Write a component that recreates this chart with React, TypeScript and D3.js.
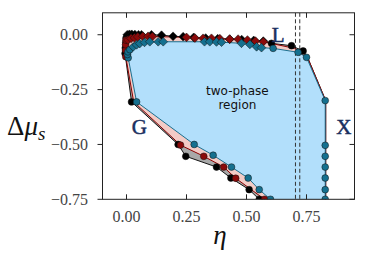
import { useRef, useEffect } from 'react';
import * as d3 from 'd3';

// [eta, delta mu, marker] marker: 'o' circle, 'd' diamond, '' plain vertex
type Pt = [number, number, string];

const blackCurve: Pt[] = [
    [0.58, -0.8, ''], [0.553, -0.75, 'o'], [0.511, -0.706, 'o'], [0.435, -0.653, 'o'], [0.375, -0.603, 'o'],
    [0.247, -0.554, 'o'], [0.215, -0.5, 'o'], [0.021, -0.306, 'o'],
    [-0.006, -0.085, 'o'], [-0.005, -0.06, 'o'], [-0.003, -0.035, 'o'], [-0.002, -0.015, 'o'],
    [0.003, 0.0, 'd'], [0.012, 0.002, 'd'], [0.022, 0.002, 'd'], [0.035, 0.001, 'd'], [0.05, 0.0, 'd'],
    [0.0625, 0.0, 'd'], [0.104, 0.0, 'd'], [0.146, -0.002, 'd'], [0.194, -0.007, 'd'], [0.236, -0.009, 'd'],
    [0.28, -0.012, 'd'], [0.33, -0.015, 'd'], [0.38, -0.018, 'd'], [0.43, -0.02, 'd'], [0.48, -0.022, 'd'],
    [0.53, -0.026, 'd'], [0.57, -0.029, 'd'], [0.604, -0.039, 'o'], [0.6875, -0.05, 'o'], [0.736, -0.074, 'o'],
    [0.755, -0.105, ''], [0.83, -0.3, ''], [0.83, -0.8, '']
];

const redCurve: Pt[] = [
    [0.6, -0.8, ''], [0.575, -0.75, 'o'], [0.455, -0.654, 'o'], [0.405, -0.603, 'o'], [0.322, -0.554, 'o'],
    [0.225, -0.503, 'o'], [0.03, -0.306, ''],
    [-0.003, -0.1, 'o'], [-0.004, -0.07, 'o'], [-0.004, -0.045, 'o'], [-0.002, -0.025, 'o'],
    [0.006, -0.024, 'd'], [0.019, -0.017, 'd'], [0.033, -0.014, 'd'], [0.047, -0.01, 'd'], [0.068, -0.007, 'd'],
    [0.09, -0.007, 'd'], [0.108, -0.008, 'd'], [0.25, -0.012, 'd'], [0.285, -0.015, 'd'], [0.319, -0.016, 'd'],
    [0.354, -0.016, 'd'], [0.389, -0.018, 'd'], [0.43, -0.02, 'd'], [0.465, -0.02, 'd'], [0.504, -0.024, 'd'],
    [0.5375, -0.029, 'd'], [0.57, -0.032, 'd'], [0.7, -0.062, ''], [0.745, -0.09, ''],
    [0.755, -0.105, ''], [0.83, -0.3, ''], [0.83, -0.8, '']
];

const blueCurve: Pt[] = [
    [0.62, -0.8, ''], [0.6, -0.75, 'o'], [0.553, -0.706, 'o'], [0.507, -0.653, 'o'], [0.4375, -0.603, 'o'],
    [0.361, -0.549, 'o'], [0.282, -0.5, 'o'], [0.042, -0.306, 'o'],
    [0.007, -0.105, 'o'], [0.004, -0.09, 'o'], [0.006, -0.078, 'o'], [0.014, -0.068, 'o'],
    [0.028, -0.055, 'd'], [0.042, -0.046, 'd'], [0.055, -0.04, 'd'], [0.075, -0.035, 'd'], [0.097, -0.032, 'd'],
    [0.132, -0.032, 'd'], [0.153, -0.032, 'd'], [0.325, -0.032, 'd'], [0.347, -0.032, 'd'], [0.375, -0.033, 'd'],
    [0.396, -0.034, 'd'], [0.479, -0.039, 'd'], [0.514, -0.044, 'd'], [0.542, -0.055, 'd'], [0.5625, -0.059, 'd'],
    [0.611, -0.062, 'o'], [0.715, -0.08, 'o'], [0.75, -0.103, 'o'], [0.828, -0.3, 'o'],
    [0.828, -0.504, 'o'], [0.828, -0.554, 'o'], [0.828, -0.603, 'o'], [0.828, -0.653, 'o'],
    [0.828, -0.706, 'o'], [0.828, -0.75, 'o'], [0.828, -0.8, '']
];

const xTicks = [0, 0.25, 0.5, 0.75];
const yTicks = [0, -0.25, -0.5, -0.75];
const dashedEta = [0.704, 0.722];

const phaseLabels = [
    { text: 'L', eta: 0.632, mu: 0.0 },
    { text: 'G', eta: 0.053, mu: -0.42 },
    { text: 'X', eta: 0.906, mu: -0.42 }
];

const series = [
    { data: blackCurve, fill: '#a9a9a9', line: '#111111', marker: '#000000' },
    { data: redCurve, fill: '#f3cbc6', line: '#8b0000', marker: '#8b0a0a' },
    { data: blueCurve, fill: '#b2dffb', line: '#1b6f8e', marker: '#15708f' }
];

const PhaseDiagram = () => {
    const svgRef = useRef<SVGSVGElement | null>(null);

    useEffect(() => {
        const svgElement = svgRef.current;
        if (!svgElement) return;

        const svg = d3.select(svgElement);
        svg.selectAll('*').remove();

        const left = 102.5, right = 354.5, top = 12.8, bottom = 199.3;

        const x = d3.scaleLinear().domain([-0.1, 0.95]).range([left, right]);
        const y = d3.scaleLinear().domain([-0.75, 0.1]).range([bottom, top]);

        svg.append('defs').append('clipPath').attr('id', 'plot-clip')
            .append('rect')
            .attr('x', left).attr('y', top)
            .attr('width', right - left).attr('height', bottom - top);

        const plot = svg.append('g').attr('clip-path', 'url(#plot-clip)');

        const line = d3.line<Pt>().x(d => x(d[0])).y(d => y(d[1]));

        // filled coexistence regions, outermost first
        series.forEach(s => {
            plot.append('path')
                .attr('d', line(s.data) + 'Z')
                .attr('fill', s.fill)
                .attr('stroke', 'none');
        });

        dashedEta.forEach(e => {
            plot.append('line')
                .attr('x1', x(e)).attr('x2', x(e))
                .attr('y1', top).attr('y2', bottom)
                .attr('stroke', '#333')
                .attr('stroke-width', 1)
                .attr('stroke-dasharray', '4,2.5');
        });

        series.forEach(s => {
            plot.append('path')
                .attr('d', line(s.data) as string)
                .attr('fill', 'none')
                .attr('stroke', s.line)
                .attr('stroke-width', 1);
        });

        const diamond = d3.symbol().type(d3.symbolSquare).size(38)();

        series.forEach(s => {
            const pts = s.data.filter(d => d[2] !== '');
            pts.forEach(d => {
                if (d[2] === 'o') {
                    plot.append('circle')
                        .attr('cx', x(d[0])).attr('cy', y(d[1]))
                        .attr('r', 3.4)
                        .attr('fill', s.marker)
                        .attr('stroke', '#111')
                        .attr('stroke-width', 0.5);
                } else {
                    plot.append('path')
                        .attr('d', diamond as string)
                        .attr('transform', `translate(${x(d[0])},${y(d[1])}) rotate(45)`)
                        .attr('fill', s.marker)
                        .attr('stroke', '#111')
                        .attr('stroke-width', 0.5);
                }
            });
        });

        // phase labels
        phaseLabels.forEach(l => {
            svg.append('text')
                .attr('x', x(l.eta)).attr('y', y(l.mu))
                .attr('text-anchor', 'middle')
                .attr('dominant-baseline', 'central')
                .style('font-family', '"Liberation Serif", serif')
                .style('font-size', '21px')
                .style('fill', '#1a2f60')
                .style('stroke', '#1a2f60')
                .style('stroke-width', 0.5)
                .text(l.text);
        });

        const regionText = svg.append('text')
            .attr('text-anchor', 'middle')
            .style('font-family', '"DejaVu Sans", sans-serif')
            .style('font-size', '12px')
            .style('fill', '#111');
        regionText.append('tspan').attr('x', x(0.462)).attr('y', 95).text('two-phase');
        regionText.append('tspan').attr('x', x(0.462)).attr('y', 109).text('region');

        // frame
        svg.append('rect')
            .attr('x', left).attr('y', top)
            .attr('width', right - left).attr('height', bottom - top)
            .attr('fill', 'none')
            .attr('stroke', '#222')
            .attr('stroke-width', 1);

        const fmt = d3.format('.2f');
        const tickFont = '"Liberation Serif", serif';

        xTicks.forEach(t => {
            svg.append('line')
                .attr('x1', x(t)).attr('x2', x(t))
                .attr('y1', bottom).attr('y2', bottom - 5)
                .attr('stroke', '#222');
            svg.append('line')
                .attr('x1', x(t)).attr('x2', x(t))
                .attr('y1', top).attr('y2', top + 5)
                .attr('stroke', '#222');
            svg.append('text')
                .attr('x', x(t)).attr('y', 221.5)
                .attr('text-anchor', 'middle')
                .style('font-family', tickFont)
                .style('font-size', '16px')
                .style('fill', '#444')
                .text(fmt(t));
        });

        yTicks.forEach(t => {
            svg.append('line')
                .attr('x1', left).attr('x2', left - 5)
                .attr('y1', y(t)).attr('y2', y(t))
                .attr('stroke', '#222');
            svg.append('line')
                .attr('x1', right).attr('x2', right - 5)
                .attr('y1', y(t)).attr('y2', y(t))
                .attr('stroke', '#222');
            svg.append('text')
                .attr('x', 88).attr('y', y(t) + 5.5)
                .attr('text-anchor', 'end')
                .style('font-family', tickFont)
                .style('font-size', '16px')
                .style('fill', '#444')
                .text(fmt(t).replace('-', '\u2212'));
        });

        // axis titles
        svg.append('text')
            .attr('x', 220).attr('y', 244)
            .attr('text-anchor', 'middle')
            .style('font-family', '"Liberation Serif", serif')
            .style('font-style', 'italic')
            .style('font-size', '27px')
            .style('fill', '#111')
            .text('\u03b7');

        const yTitle = svg.append('text')
            .attr('x', 7).attr('y', 135)
            .style('font-family', '"Liberation Serif", serif')
            .style('font-size', '27px')
            .style('fill', '#111');
        yTitle.append('tspan').text('\u0394');
        yTitle.append('tspan').style('font-style', 'italic').text('\u03bc');
        yTitle.append('tspan').attr('dy', 5).style('font-style', 'italic').style('font-size', '19px').text('s');
    }, []);

    return (
        <svg ref={svgRef} width={374} height={267} style={{ position: 'absolute', left: 0, top: 0 }}></svg>
    );
};

export default function App() {
    return <PhaseDiagram />;
}
